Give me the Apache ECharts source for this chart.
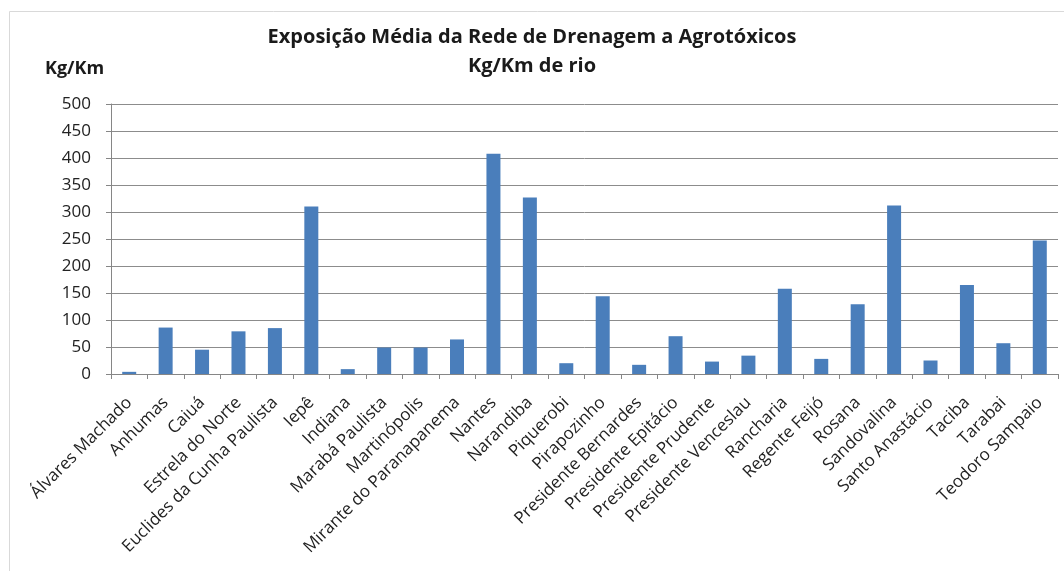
<!DOCTYPE html>
<html>
<head>
<meta charset="utf-8">
<script src="https://cdn.jsdelivr.net/npm/echarts@6/dist/echarts.min.js"></script>
<style>
  html, body { margin: 0; padding: 0; background: #fff; }
  #main { width: 1064px; height: 571px; }
</style>
</head>
<body>
<div id="main"></div>
<script>
// municípios
var cidades = [
  "Álvares Machado", "Anhumas", "Caiuá", "Estrela do Norte", "Euclides da Cunha Paulista",
  "Iepê", "Indiana", "Marabá Paulista", "Martinópolis", "Mirante do Paranapanema",
  "Nantes", "Narandiba", "Piquerobi", "Pirapozinho", "Presidente Bernardes",
  "Presidente Epitácio", "Presidente Prudente", "Presidente Venceslau", "Rancharia",
  "Regente Feijó", "Rosana", "Sandovalina", "Santo Anastácio", "Taciba", "Tarabai",
  "Teodoro Sampaio"
];
// Kg/Km de rio
var exposicao = [
  4, 86, 45, 79, 85,
  310, 9, 49, 49, 64,
  408, 327, 20, 144, 17,
  70, 23, 34, 158,
  28, 129, 312, 25, 165, 57,
  247
];
var yTicks = { min: 0, max: 500, interval: 50 };

var fonte = "'Open Sans', 'Noto Sans', sans-serif";
var myChart = echarts.init(document.getElementById("main"));

var option = {
  animation: false,
  title: {
    text: "Exposição Média da Rede de Drenagem a Agrotóxicos\nKg/Km de rio",
    left: "center",
    top: 18,
    textStyle: {
      fontFamily: fonte,
      fontWeight: "bold",
      fontSize: 20,
      lineHeight: 29,
      color: "#1a1a1a"
    }
  },
  graphic: [
    {
      type: "rect",
      shape: { x: 9.5, y: 11.5, width: 1100, height: 600 },
      style: { fill: "none", stroke: "#d9d9d9", lineWidth: 1 },
      silent: true
    },
    {
      type: "text",
      left: 45,
      top: 60,
      style: {
        text: "Kg/Km",
        font: "bold 18px " + fonte,
        fill: "#1a1a1a"
      }
    }
  ],
  grid: {
    left: 111,
    right: 6,
    top: 104,
    bottom: 197,
    containLabel: false
  },
  xAxis: {
    type: "category",
    data: cidades,
    axisLine: { show: true, lineStyle: { color: "#868686", width: 1 } },
    axisTick: { show: true, length: 5, lineStyle: { color: "#868686" } },
    axisLabel: {
      interval: 0,
      rotate: 45,
      margin: 26,
      fontFamily: fonte,
      fontSize: 17,
      color: "#222"
    }
  },
  yAxis: {
    type: "value",
    min: yTicks.min,
    max: yTicks.max,
    interval: yTicks.interval,
    axisLine: { show: true, lineStyle: { color: "#868686", width: 1 } },
    axisTick: { show: true, length: 5, lineStyle: { color: "#868686" } },
    splitLine: { show: true, lineStyle: { color: "#8c8c8c", width: 1 } },
    axisLabel: {
      margin: 20,
      fontFamily: fonte,
      fontSize: 17,
      color: "#222"
    }
  },
  series: [
    {
      name: "Kg/Km de rio",
      type: "bar",
      data: exposicao,
      barWidth: 14,
      itemStyle: { color: "#4a7ebb" }
    }
  ]
};

myChart.setOption(option);
</script>
</body>
</html>
